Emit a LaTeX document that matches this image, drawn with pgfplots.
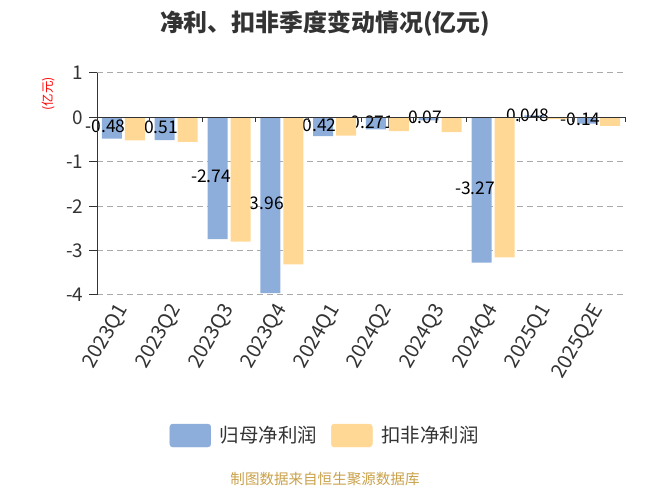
\documentclass[border=0pt]{standalone}
\usepackage{pgfplots}
\usepackage{pgfplotstable}
\pgfplotsset{compat=1.18}
\usepackage{fontspec}
\setmainfont{Noto Sans CJK SC}

\definecolor{cblue}{RGB}{141,173,219}
\definecolor{corange}{RGB}{255,216,150}
\definecolor{txt}{RGB}{51,51,51}
\definecolor{gridc}{RGB}{170,170,170}
\definecolor{srcc}{RGB}{201,161,75}

% 归母净利润 (with the printed labels)
\pgfplotstableread{
x y label
0 -0.48 -0.48
1 -0.51 -0.51
2 -2.74 -2.74
3 -3.96 -3.96
4 -0.42 -0.42
5 -0.271 -0.271
6 -0.07 -0.07
7 -3.27 -3.27
8 0.048 0.048
9 -0.14 -0.14
}\guimu

% 扣非净利润
\pgfplotstableread{
x y
0 -0.52
1 -0.55
2 -2.80
3 -3.31
4 -0.41
5 -0.31
6 -0.33
7 -3.15
8 -0.04
9 -0.19
}\koufei

\pgfplotsset{frame/.style={
  at={(97bp,193bp)}, anchor=south west,
  width=528bp, height=222bp, scale only axis,
  xmin=-0.5, xmax=9.5, ymin=-4, ymax=1,
  clip=false}}

\begin{document}
\begin{tikzpicture}[x=1bp,y=1bp]
\useasboundingbox (0,0) rectangle (650,488);

\node[font=\fontsize{24}{24}\selectfont\bfseries, text=txt] at (325,464) {净利、扣非季度变动情况(亿元)};
\node[rotate=90, text=red, font=\fontsize{12.5}{12.5}\selectfont] at (49,394) {(亿元)};
\node[text=srcc, font=\fontsize{14.6}{14.6}\selectfont] at (325,9) {制图数据来自恒生聚源数据库};

% first layer: grid, ticks labels, blue bars and their labels
\begin{axis}[
  frame,
  ytick={-4,-3,-2,-1,0,1},
  xtick={0,...,9},
  xticklabels={2023Q1,2023Q2,2023Q3,2023Q4,2024Q1,2024Q2,2024Q3,2024Q4,2025Q1,2025Q2E},
  axis line style={draw=none},
  major tick length=0pt,
  ymajorgrids,
  grid style={gridc, dash pattern=on 6bp off 4bp, line width=1bp},
  tick label style={font=\fontsize{19}{19}\selectfont, text=txt},
  /pgf/number format/assume math mode=true,
  y tick label style={xshift=-10bp},
  x tick label style={font=\fontsize{20}{20}\selectfont, xshift=2bp, yshift=-8bp, rotate=60, anchor=east},
  legend style={at={(0.432,-0.633)}, anchor=center, draw=none, fill=none,
    font=\fontsize{19.5}{19.5}\selectfont, text=txt,
    /tikz/every even column/.append style={column sep=12bp}},
  legend columns=2,
  legend cell align=left,
]
\addplot[ybar, forget plot, bar width=20bp, bar shift=-11.5bp, fill=cblue, draw=none,
  nodes near coords, point meta=explicit symbolic,
  visualization depends on={y \as \rawy},
  every node near coord/.append style={anchor=center, text=black,
    font=\fontsize{17.5}{17.5}\selectfont, xshift=-18bp, yshift={1.5-22.3*(\rawy)}}]
  table[x=x, y=y, meta=label] {\guimu};

\addlegendimage{legend image code/.code={\fill[cblue, rounded corners=3bp] (0bp,-11.5bp) rectangle (41bp,11.5bp);}}
\addlegendentry{\hspace{7bp}归母净利润}
\addlegendimage{legend image code/.code={\fill[corange, rounded corners=3bp] (0bp,-11.5bp) rectangle (41bp,11.5bp);}}
\addlegendentry{\hspace{7bp}扣非净利润}
\end{axis}

% second layer: orange bars over the labels, then the axis lines
\begin{axis}[frame, hide axis]
\addplot[ybar, bar width=20bp, bar shift=11.5bp, fill=corange, draw=none]
  table[x=x, y=y] {\koufei};

\draw[txt, line width=1bp] (axis cs:-0.5,-4) -- (axis cs:-0.5,1);
\draw[txt, line width=1bp] (axis cs:-0.5,0) -- (axis cs:9.5,0);
\pgfplotsinvokeforeach{-4,-3,-2,-1,0,1}{
  \draw[txt, line width=1bp] (axis cs:-0.5,#1) -- ([xshift=-8bp]axis cs:-0.5,#1);}
\pgfplotsinvokeforeach{0.5,1.5,2.5,3.5,4.5,5.5,6.5,7.5,8.5,9.5}{
  \draw[txt, line width=1bp] (axis cs:#1,0) -- ([yshift=-5bp]axis cs:#1,0);}
\end{axis}
\end{tikzpicture}
\end{document}
